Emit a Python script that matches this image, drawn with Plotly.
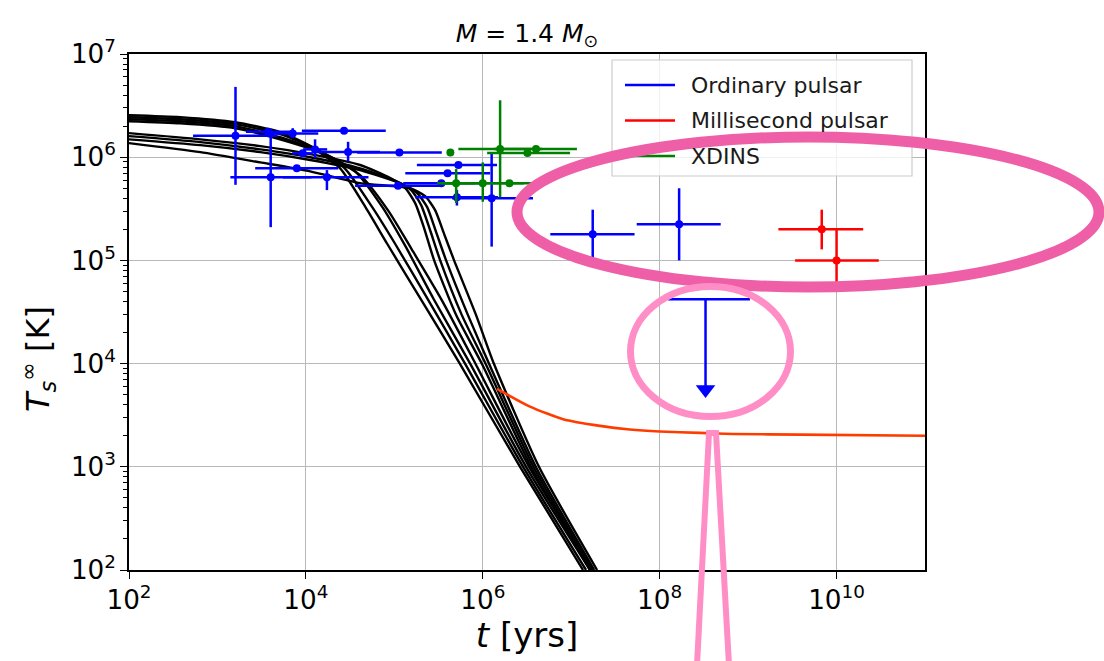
import plotly.graph_objects as go

# ---------------- data ----------------
# Cooling curves (t in yrs, T in K)
U1_t = [1e2, 3.8e2, 1.59e3, 5.1e3, 1.12e4, 2.44e4, 4.7e4, 8.3e4, 1.96e5, 5.5e5, 2.64e6, 1.36e7]
U1_T = [2.55e6, 2.44e6, 2.18e6, 1.75e6, 1.28e6, 7.8e5, 3.3e5, 1.45e5, 4.3e4, 1.0e4, 1.0e3, 1.0e2]
U2_t = [1e2, 3.8e2, 1.59e3, 5.1e3, 1.27e4, 2.75e4, 5.6e4, 1.02e5, 2.35e5, 6.3e5, 2.86e6, 1.47e7]
U2_T = [2.44e6, 2.33e6, 2.09e6, 1.67e6, 1.22e6, 7.8e5, 3.3e5, 1.45e5, 4.3e4, 1.0e4, 1.0e3, 1.0e2]
U3_t = [1e2, 3.8e2, 1.59e3, 5.1e3, 1.43e4, 3.6e4, 7.3e4, 1.33e5, 2.75e5, 7.2e5, 3.09e6, 1.63e7]
U3_T = [2.33e6, 2.23e6, 2.0e6, 1.56e6, 1.14e6, 7.3e5, 3.3e5, 1.38e5, 4.3e4, 1.0e4, 1.0e3, 1.0e2]
U4_t = [1e2, 3.8e2, 1.59e3, 5.1e3, 1.63e4, 4.1e4, 8.6e4, 1.59e5, 3.45e5, 8.3e5, 3.34e6, 1.72e7]
U4_T = [2.23e6, 2.13e6, 1.91e6, 1.49e6, 1.07e6, 6.7e5, 3.0e5, 1.26e5, 4.1e4, 9.9e3, 1.0e3, 1.0e2]
L1_t = [1e2, 6.4e2, 3.05e3, 1.12e4, 4.1e4, 9.0e4, 1.33e5, 1.72e5, 2.17e5, 2.82e5, 5.0e5, 9.8e5, 3.52e6, 1.63e7]
L1_T = [1.71e6, 1.49e6, 1.28e6, 1.07e6, 8.4e5, 6.27e5, 5.01e5, 3.59e5, 2.06e5, 1.0e5, 2.95e4, 9.9e3, 1.0e3, 1.0e2]
L2_t = [1e2, 6.4e2, 3.05e3, 1.12e4, 4.1e4, 1.05e5, 1.55e5, 2.01e5, 2.54e5, 3.30e5, 5.8e5, 1.08e6, 3.74e6, 1.72e7]
L2_T = [1.60e6, 1.40e6, 1.19e6, 1.0e6, 7.8e5, 5.86e5, 4.8e5, 3.43e5, 1.96e5, 1.0e5, 2.95e4, 9.9e3, 1.0e3, 1.0e2]
L3_t = [1e2, 6.4e2, 3.05e3, 1.12e4, 4.1e4, 1.22e5, 1.81e5, 2.35e5, 2.97e5, 3.85e5, 6.8e5, 1.18e6, 3.98e6, 1.82e7]
L3_T = [1.49e6, 1.31e6, 1.12e6, 9.4e5, 7.5e5, 5.48e5, 4.49e5, 3.28e5, 1.88e5, 1.0e5, 2.95e4, 9.9e3, 1.0e3, 1.0e2]
L4_t = [1e2, 6.4e2, 3.05e3, 1.12e4, 4.1e4, 1.51e5, 2.23e5, 2.89e5, 3.66e5, 4.74e5, 8.4e5, 1.34e6, 4.32e6, 1.96e7]
L4_T = [1.37e6, 1.12e6, 8.9e5, 7.3e5, 5.6e5, 5.01e5, 4.19e5, 3.07e5, 1.80e5, 1.0e5, 2.95e4, 9.9e3, 1.0e3, 1.0e2]
curves = [(U1_t, U1_T), (U2_t, U2_T), (U3_t, U3_T), (U4_t, U4_T),
          (L1_t, L1_T), (L2_t, L2_T), (L3_t, L3_T), (L4_t, L4_T)]

# Red (heated) cooling curve
red_curve_t = [1.45e6, 3.42e6, 8.1e6, 2.12e7, 4.6e7, 1.0e8, 2.86e8, 6.7e8, 3.9e9, 1.0e11]
red_curve_T = [5.7e3, 3.83e3, 2.89e3, 2.49e3, 2.30e3, 2.20e3, 2.13e3, 2.08e3, 2.05e3, 2.0e3]

# Ordinary pulsars
ord_t    = [1.6e3, 3.75e3, 7.1e3, 2.7e4, 9.2e3, 1.27e4, 3.0e4, 1.14e5, 7.9e3, 4.0e3, 1.73e4,
            1.1e5, 3.4e5, 4.0e5, 5.3e5, 5.1e5, 1.26e6, 1.75e7, 1.66e8]
ord_t_lo = [5.3e2, 2.1e3, 3.66e3, 9.0e3, 7.0e3, 9.3e3, 1.31e4, 3.8e4, 2.67e3, 1.4e3, 5.5e3,
            3.6e4, 1.26e5, 1.33e5, 1.8e5, 1.72e5, 4.5e5, 5.8e6, 5.5e7]
ord_t_hi = [4.7e3, 6.8e3, 1.38e4, 8.0e4, 1.2e4, 1.74e4, 6.9e4, 3.44e5, 2.32e4, 1.15e4, 5.1e4,
            3.3e5, 9.1e5, 1.21e6, 1.45e6, 1.49e6, 3.7e6, 5.2e7, 4.9e8]
ord_T    = [1.61e6, 1.76e6, 1.7e6, 1.8e6, 1.09e6, 1.19e6, 1.12e6, 1.11e6, 7.8e5, 6.4e5, 6.4e5,
            5.3e5, 5.6e5, 7.0e5, 8.4e5, 4.1e5, 4.0e5, 1.79e5, 2.24e5]
ord_T_lo = [5.4e5, 1.76e6, 1.53e6, 1.8e6, 1.09e6, 9.8e5, 9.1e5, 1.11e6, 7.8e5, 2.1e5, 4.8e5,
            5.3e5, 5.6e5, 7.0e5, 8.4e5, 3.4e5, 1.36e5, 1.05e5, 1.0e5]
ord_T_hi = [4.8e6, 1.76e6, 1.91e6, 1.8e6, 1.09e6, 1.49e6, 1.41e6, 1.11e6, 7.8e5, 1.82e6, 7.5e5,
            5.3e5, 5.6e5, 7.0e5, 8.4e5, 4.8e5, 1.09e6, 3.1e5, 5.0e5]

# Ordinary pulsar upper limit
ul_t, ul_t_lo, ul_t_hi = 3.3e8, 1.25e8, 1.05e9
ul_T, ul_T_arrow = 4.2e4, 5.6e3

# Millisecond pulsars
msp_t    = [6.8e9, 1.0e10]
msp_t_lo = [2.2e9, 3.4e9]
msp_t_hi = [2.0e10, 3.0e10]
msp_T    = [2.0e5, 1.0e5]
msp_T_lo = [1.28e5, 5.8e4]
msp_T_hi = [3.1e5, 2.0e5]

# XDINS
xd_t    = [4.3e5, 1.57e6, 3.2e6, 4.0e6, 5.0e5, 1.0e6, 2.0e6]
xd_t_lo = [4.3e5, 5.3e5, 1.12e6, 1.34e6, 3.05e5, 3.4e5, 8.9e5]
xd_t_hi = [4.3e5, 4.7e6, 9.7e6, 1.16e7, 8.2e5, 2.9e6, 4.45e6]
xd_T    = [1.11e6, 1.2e6, 1.1e6, 1.2e6, 5.6e5, 5.6e5, 5.6e5]
xd_T_lo = [1.11e6, 4.1e5, 1.1e6, 1.2e6, 3.6e5, 3.7e5, 5.6e5]
xd_T_hi = [1.11e6, 3.56e6, 1.1e6, 1.2e6, 7.7e5, 8.9e5, 5.6e5]

legend_names = ["Ordinary pulsar", "Millisecond pulsar", "XDINS"]
BLUE, RED, GREEN = "#0000ff", "#ff0000", "#008000"
legend_colors = [BLUE, RED, GREEN]

FONT = "DejaVu Sans"
W, H = 1104, 661
ML, MR, MT, MB = 129, 179, 54, 91


def err(v, lo, hi):
    return ([h - c for c, h in zip(v, hi)], [c - l for c, l in zip(v, lo)])


fig = go.Figure()

for t, T in curves:
    fig.add_trace(go.Scatter(x=t, y=T, mode="lines", showlegend=False,
                             line=dict(color="black", width=2.4, shape="spline", smoothing=0.6)))

fig.add_trace(go.Scatter(x=red_curve_t, y=red_curve_T, mode="lines", showlegend=False,
                         line=dict(color="#ff3c00", width=2.6, shape="spline", smoothing=0.6)))


def add_err(t, tlo, thi, T, Tlo, Thi, color):
    ex_p, ex_m = err(t, tlo, thi)
    ey_p, ey_m = err(T, Tlo, Thi)
    fig.add_trace(go.Scatter(
        x=t, y=T, mode="markers", showlegend=False,
        marker=dict(color=color, size=8),
        error_x=dict(type="data", array=ex_p, arrayminus=ex_m, color=color, thickness=2.5, width=0),
        error_y=dict(type="data", array=ey_p, arrayminus=ey_m, color=color, thickness=2.5, width=0)))


add_err(ord_t, ord_t_lo, ord_t_hi, ord_T, ord_T_lo, ord_T_hi, BLUE)
add_err(xd_t, xd_t_lo, xd_t_hi, xd_T, xd_T_lo, xd_T_hi, GREEN)
add_err(msp_t, msp_t_lo, msp_t_hi, msp_T, msp_T_lo, msp_T_hi, RED)

# upper limit: horizontal bar + downward arrow
fig.add_trace(go.Scatter(x=[ul_t], y=[ul_T], mode="markers", showlegend=False,
                         marker=dict(size=0.1, color=BLUE),
                         error_x=dict(type="data", array=[ul_t_hi - ul_t], arrayminus=[ul_t - ul_t_lo],
                                      color=BLUE, thickness=2.5, width=0)))
fig.add_trace(go.Scatter(x=[ul_t, ul_t], y=[ul_T, ul_T_arrow], mode="lines", showlegend=False,
                         line=dict(color=BLUE, width=2.5)))
fig.add_trace(go.Scatter(x=[ul_t], y=[ul_T_arrow], mode="markers", showlegend=False,
                         marker=dict(symbol="triangle-down", size=17, color=BLUE)))

pw, ph = W - ML - MR, H - MT - MB


def P(px, py):
    return (px - ML) / pw, (H - MB - py) / ph


shapes = []
annotations = []
# legend frame + entries (drawn by hand to match the matplotlib legend)
x0, y0 = P(612, 60)
x1, y1 = P(912, 176)
shapes.append(dict(type="rect", xref="paper", yref="paper", x0=x0, y0=y1, x1=x1, y1=y0,
                   fillcolor="rgba(255,255,255,0.8)", line=dict(color="#cccccc", width=1.2),
                   layer="above"))
for i, (name, c) in enumerate(zip(legend_names, legend_colors)):
    yy = 85 + 35.5 * i
    a0, b0 = P(625, yy)
    a1, _ = P(675, yy)
    shapes.append(dict(type="line", xref="paper", yref="paper", x0=a0, y0=b0, x1=a1, y1=b0,
                       line=dict(color=c, width=2.6), layer="above"))
    tx, ty = P(689, yy)
    annotations.append(dict(text=name, xref="paper", yref="paper", x=tx, y=ty,
                            xanchor="left", yanchor="middle", showarrow=False,
                            font=dict(family=FONT, size=22, color="#1a1a1a")))

# y-axis label (placed like the original, slightly below the axis centre)
lx, ly = P(38, 359)
annotations.append(dict(text="<i>T</i><sub><i>s</i></sub><sup>∞</sup> [K]", xref="paper", yref="paper",
                        x=lx, y=ly, xanchor="center", yanchor="middle", textangle=-90,
                        showarrow=False, font=dict(family=FONT, size=32, color="black")))

# big ellipse
x0, y0 = P(517, 137)
x1, y1 = P(1099, 287)
shapes.append(dict(type="circle", xref="paper", yref="paper", x0=x0, y0=y1, x1=x1, y1=y0,
                   line=dict(color="#ee5fa8", width=11), layer="above"))
# small ellipse
x0, y0 = P(630.5, 286.5)
x1, y1 = P(790.5, 416.5)
shapes.append(dict(type="circle", xref="paper", yref="paper", x0=x0, y0=y1, x1=x1, y1=y0,
                   line=dict(color="#ff8ec6", width=7), layer="above"))
# pointer
pts = [P(697, 665), P(709, 433), P(716, 433), P(729, 665)]
path = "M {} {} L {} {} L {} {} L {} {}".format(*[v for p in pts for v in p])
shapes.append(dict(type="path", xref="paper", yref="paper", path=path,
                   line=dict(color="#ff8ec6", width=6), layer="above"))

axis_common = dict(
    type="log", showline=True, linecolor="black", linewidth=1.6, mirror=True,
    ticks="outside", ticklen=7, tickwidth=1.4, tickcolor="black",
    showgrid=True, gridcolor="#b8b8b8", gridwidth=1.4, zeroline=False,
    exponentformat="power", tickfont=dict(family=FONT, size=21, color="black"),
)

fig.update_layout(
    width=W, height=H,
    margin=dict(l=ML, r=MR, t=MT, b=MB),
    paper_bgcolor="white", plot_bgcolor="white",
    font=dict(family=FONT, color="black"),
    title=dict(text="<i>M</i> = 1.4 <i>M</i><sub>⊙</sub>", x=0.5, xref="paper",
               y=1 - 33 / H, yanchor="middle", font=dict(family=FONT, size=25)),
    xaxis=dict(axis_common, range=[2, 11], dtick=2,
               title=dict(text="<i>t</i> [yrs]", font=dict(family=FONT, size=34), standoff=6)),
    yaxis=dict(axis_common, range=[2, 7], dtick=1,
               minor=dict(ticks="outside", ticklen=4, tickcolor="black", showgrid=False)),
    showlegend=False,
    shapes=shapes,
    annotations=annotations,
)

fig.write_html("out.html")
